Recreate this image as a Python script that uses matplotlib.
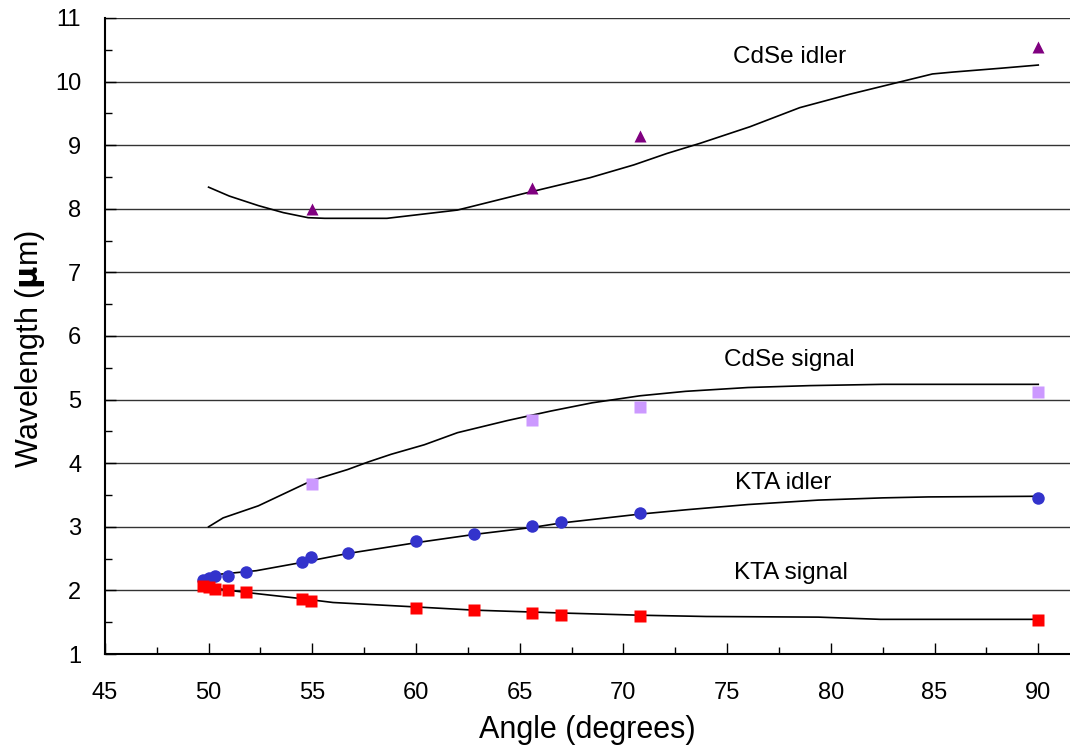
import numpy as np
import matplotlib
matplotlib.use('Agg')
import matplotlib.pyplot as plt
from matplotlib.ticker import MultipleLocator

plt.rcParams['font.family'] = ['Liberation Sans', 'DejaVu Sans']

# measured points
cdse_idler_x = [55.0, 65.6, 70.8, 90.0]
cdse_idler_y = [8.0, 8.32, 9.14, 10.55]
cdse_signal_x = [55.0, 65.6, 70.8, 90.0]
cdse_signal_y = [3.67, 4.68, 4.89, 5.12]
kta_idler_x = [49.75, 50.0, 50.3, 50.95, 51.8, 54.5, 54.95, 56.7, 60.0, 62.8, 65.6, 67.0, 70.8, 90.0]
kta_idler_y = [2.17, 2.19, 2.23, 2.23, 2.29, 2.45, 2.53, 2.59, 2.77, 2.89, 3.01, 3.07, 3.21, 3.46]
kta_signal_x = [49.75, 50.0, 50.3, 50.95, 51.8, 54.5, 54.95, 60.0, 62.8, 65.6, 67.0, 70.8, 90.0]
kta_signal_y = [2.07, 2.05, 2.03, 2.01, 1.97, 1.87, 1.83, 1.72, 1.69, 1.64, 1.61, 1.59, 1.53]

# theory curves
cdse_idler_cx = [50.0, 51.0, 52.4, 53.6, 54.8, 55.6, 58.6, 62.0, 65.2, 68.4, 70.5, 72.1, 73.7, 76.1, 78.5, 80.9, 83.4, 84.9, 85.9, 88.2, 90.0]
cdse_idler_cy = [8.34, 8.2, 8.05, 7.94, 7.86, 7.85, 7.85, 7.98, 8.24, 8.49, 8.69, 8.87, 9.03, 9.29, 9.59, 9.8, 10.0, 10.12, 10.15, 10.21, 10.26]
cdse_signal_cx = [50.0, 50.7, 52.4, 55.0, 56.7, 57.7, 58.8, 60.4, 62.0, 64.4, 66.5, 68.5, 70.8, 73.0, 76.0, 79.0, 82.5, 86.0, 90.0]
cdse_signal_cy = [3.0, 3.14, 3.33, 3.73, 3.9, 4.02, 4.14, 4.29, 4.48, 4.67, 4.82, 4.95, 5.06, 5.13, 5.19, 5.22, 5.24, 5.24, 5.24]
kta_idler_cx = [49.75, 50.4, 52.3, 54.5, 56.7, 60.0, 62.8, 65.6, 67.0, 70.8, 73.1, 76.0, 79.4, 82.5, 84.7, 90.0]
kta_idler_cy = [2.13, 2.25, 2.31, 2.44, 2.58, 2.75, 2.88, 2.99, 3.06, 3.2, 3.27, 3.35, 3.42, 3.455, 3.47, 3.48]
kta_signal_cx = [49.75, 51.0, 52.3, 54.5, 56.0, 60.0, 62.8, 65.6, 67.0, 70.8, 74.0, 79.4, 82.4, 86.0, 90.0]
kta_signal_cy = [2.07, 2.0, 1.95, 1.87, 1.81, 1.74, 1.69, 1.66, 1.645, 1.61, 1.59, 1.58, 1.545, 1.545, 1.545]

fig = plt.figure(figsize=(10.7, 7.46), dpi=100)
ax = fig.add_axes([0.098, 0.1233, 0.902, 0.8526])

for cx, cy in [(cdse_idler_cx, cdse_idler_cy), (cdse_signal_cx, cdse_signal_cy),
               (kta_idler_cx, kta_idler_cy), (kta_signal_cx, kta_signal_cy)]:
    ax.plot(cx, cy, color='black', lw=1.2, zorder=3)

ax.plot(cdse_idler_x, cdse_idler_y, '^', color='#800080', ms=9, mec='none', zorder=4)
ax.plot(cdse_signal_x, cdse_signal_y, 's', color='#CC99FF', ms=8, mec='none', zorder=4)
ax.plot(kta_idler_x, kta_idler_y, 'o', color='#3333CC', ms=9, mec='none', zorder=4)
ax.plot(kta_signal_x, kta_signal_y, 's', color='#FF0000', ms=8, mec='none', zorder=4)

ax.text(78.0, 10.39, 'CdSe idler', fontsize=17.5, ha='center', va='center')
ax.text(78.0, 5.62, 'CdSe signal', fontsize=17.5, ha='center', va='center')
ax.text(77.7, 3.69, 'KTA idler', fontsize=17.5, ha='center', va='center')
ax.text(78.1, 2.27, 'KTA signal', fontsize=17.5, ha='center', va='center')

ax.set_xlim(45, 91.53)
ax.set_ylim(1, 11)
ax.xaxis.set_major_locator(MultipleLocator(5))
ax.xaxis.set_minor_locator(MultipleLocator(2.5))
ax.yaxis.set_major_locator(MultipleLocator(1))
ax.yaxis.set_minor_locator(MultipleLocator(0.5))
ax.tick_params(which='both', direction='in', labelsize=17, color='black')
ax.tick_params(which='major', length=8, width=1)
ax.tick_params(which='minor', length=5, width=1)
ax.tick_params(axis='x', pad=20)
ax.tick_params(axis='y', pad=17)
ax.grid(axis='y', which='major', color='#333333', lw=1.0)
ax.set_axisbelow(True)
for s in ['top', 'right']:
    ax.spines[s].set_visible(False)
for s in ['left', 'bottom']:
    ax.spines[s].set_linewidth(1.5)

ax.set_xlabel('Angle (degrees)', fontsize=22, labelpad=8)
ax.set_ylabel(r'Wavelength ($\mathbf{\mu}$m)', fontsize=22)
ax.yaxis.set_label_coords(-0.06, 0.48)

fig.savefig('out.png', dpi=100)
